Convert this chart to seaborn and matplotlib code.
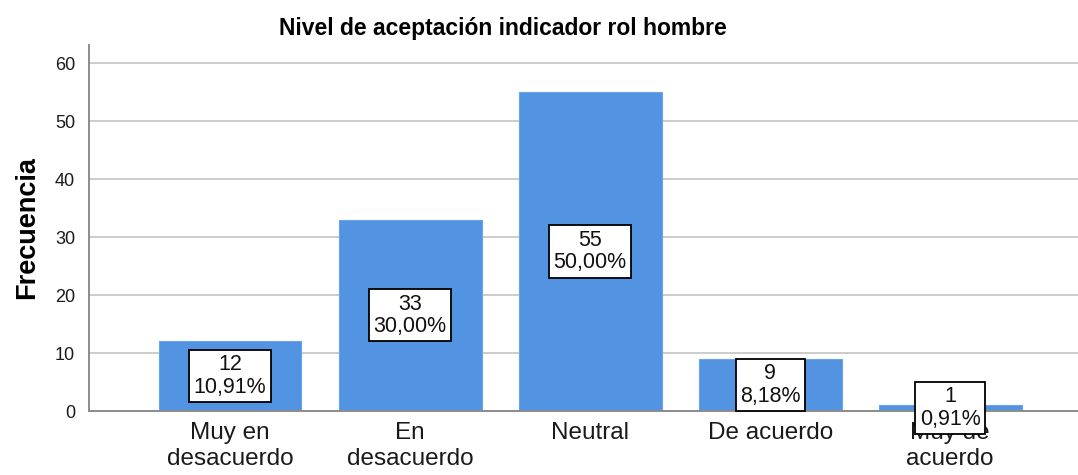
import pandas as pd
import seaborn as sns
import matplotlib.pyplot as plt

# Datos
categorias = ['Muy en\ndesacuerdo', 'En\ndesacuerdo', 'Neutral', 'De acuerdo', 'Muy de\nacuerdo']
frecuencias = [12, 33, 55, 9, 1]
porcentajes = ['10,91%', '30,00%', '50,00%', '8,18%', '0,91%']

df = pd.DataFrame({'categoria': categorias, 'frecuencia': frecuencias})

sns.set_style('white')
plt.rcParams['font.family'] = ['Liberation Sans', 'DejaVu Sans']

fig = plt.figure(figsize=(10.78, 4.75), dpi=100)
ax = fig.add_axes([0.0826, 0.1347, 0.9174, 0.7705])

sns.barplot(data=df, x='categoria', y='frecuencia', color='#5294e2', saturation=1,
            width=0.794, edgecolor='#6aa3ea', linewidth=0.8, ax=ax, zorder=2)

ax.set_xlim(-0.783, 4.71)
ax.set_ylim(0, 63.1)
ax.set_yticks(range(0, 61, 10))
ax.yaxis.grid(True, color='#c4c4c4', linewidth=1.2, zorder=0)
ax.set_axisbelow(True)

for s in ['top', 'right']:
    ax.spines[s].set_visible(False)
for s in ['left', 'bottom']:
    ax.spines[s].set_color('#8c8c8c')
    ax.spines[s].set_linewidth(1.4)

ax.tick_params(axis='x', labelsize=17.5, length=0, pad=8, labelcolor='#1a1a1a')
ax.tick_params(axis='y', labelsize=13, length=0, pad=10, labelcolor='#1a1a1a')
ax.set_xlabel('')
ax.set_ylabel('Frecuencia', fontsize=19.5, fontweight='bold', labelpad=11, color='black')

# Etiquetas de valor dentro de cajas
for i, (f, p) in enumerate(zip(frecuencias, porcentajes)):
    ax.text(i, f / 2, f'{f}\n{p}', ha='center', va='center', fontsize=15.5,
            linespacing=1.1, color='#111111', zorder=5,
            bbox=dict(boxstyle='square,pad=0.2', facecolor='white',
                      edgecolor='black', linewidth=1.3))

fig.text(503 / 1078, 1 - 28 / 475, 'Nivel de aceptación indicador rol hombre',
         ha='center', va='center', fontsize=16.5, fontweight='bold', color='black')

plt.savefig('out.png', dpi=100)
